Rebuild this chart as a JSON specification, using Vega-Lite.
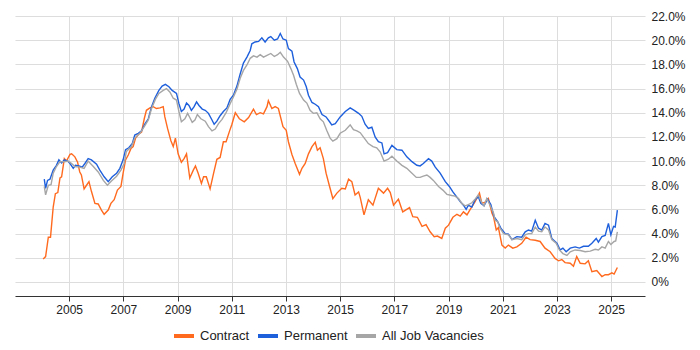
{
  "$schema": "https://vega.github.io/schema/vega-lite/v6.json",
  "width": 630,
  "height": 280,
  "autosize": "none",
  "padding": {"left": 15, "top": 16, "right": 55, "bottom": 54},
  "config": {
    "font": "Liberation Sans",
    "view": {"stroke": null},
    "axis": {"labelFont": "Liberation Sans", "labelFontSize": 12, "labelColor": "#222", "gridColor": "#dddddd", "gridWidth": 1},
    "legend": {"labelFont": "Liberation Sans", "labelFontSize": 13, "labelColor": "#222"}
  },
  "data": {
    "values": [
      {"s":"Contract","t":2004.04,"v":1.9},{"s":"Contract","t":2004.13,"v":2.1},{"s":"Contract","t":2004.23,"v":3.7},{"s":"Contract","t":2004.31,"v":3.7},{"s":"Contract","t":2004.41,"v":6.2},{"s":"Contract","t":2004.49,"v":7.3},{"s":"Contract","t":2004.58,"v":7.4},{"s":"Contract","t":2004.66,"v":8.6},{"s":"Contract","t":2004.72,"v":8.7},{"s":"Contract","t":2004.82,"v":10.2},{"s":"Contract","t":2004.90,"v":10.0},{"s":"Contract","t":2005.03,"v":10.55},{"s":"Contract","t":2005.09,"v":10.6},{"s":"Contract","t":2005.21,"v":10.35},{"s":"Contract","t":2005.31,"v":9.9},{"s":"Contract","t":2005.39,"v":9.1},{"s":"Contract","t":2005.45,"v":8.85},{"s":"Contract","t":2005.55,"v":7.7},{"s":"Contract","t":2005.64,"v":8.0},{"s":"Contract","t":2005.73,"v":8.3},{"s":"Contract","t":2005.82,"v":7.5},{"s":"Contract","t":2005.95,"v":6.5},{"s":"Contract","t":2006.07,"v":6.45},{"s":"Contract","t":2006.19,"v":5.95},{"s":"Contract","t":2006.29,"v":5.6},{"s":"Contract","t":2006.44,"v":5.95},{"s":"Contract","t":2006.54,"v":6.5},{"s":"Contract","t":2006.66,"v":6.8},{"s":"Contract","t":2006.78,"v":7.6},{"s":"Contract","t":2006.91,"v":7.9},{"s":"Contract","t":2006.99,"v":9.0},{"s":"Contract","t":2007.08,"v":10.1},{"s":"Contract","t":2007.18,"v":10.5},{"s":"Contract","t":2007.28,"v":11.05},{"s":"Contract","t":2007.36,"v":11.2},{"s":"Contract","t":2007.45,"v":11.9},{"s":"Contract","t":2007.55,"v":12.2},{"s":"Contract","t":2007.67,"v":12.4},{"s":"Contract","t":2007.77,"v":13.5},{"s":"Contract","t":2007.85,"v":14.2},{"s":"Contract","t":2007.98,"v":14.4},{"s":"Contract","t":2008.10,"v":14.5},{"s":"Contract","t":2008.22,"v":14.35},{"s":"Contract","t":2008.35,"v":14.4},{"s":"Contract","t":2008.47,"v":14.5},{"s":"Contract","t":2008.53,"v":13.65},{"s":"Contract","t":2008.63,"v":12.7},{"s":"Contract","t":2008.75,"v":11.7},{"s":"Contract","t":2008.84,"v":11.2},{"s":"Contract","t":2008.92,"v":11.9},{"s":"Contract","t":2009.02,"v":10.6},{"s":"Contract","t":2009.14,"v":9.9},{"s":"Contract","t":2009.24,"v":10.2},{"s":"Contract","t":2009.33,"v":10.6},{"s":"Contract","t":2009.45,"v":8.6},{"s":"Contract","t":2009.58,"v":9.25},{"s":"Contract","t":2009.66,"v":9.6},{"s":"Contract","t":2009.76,"v":9.0},{"s":"Contract","t":2009.88,"v":8.15},{"s":"Contract","t":2009.96,"v":8.7},{"s":"Contract","t":2010.06,"v":8.7},{"s":"Contract","t":2010.20,"v":7.7},{"s":"Contract","t":2010.33,"v":9.0},{"s":"Contract","t":2010.45,"v":10.15},{"s":"Contract","t":2010.57,"v":10.3},{"s":"Contract","t":2010.69,"v":11.6},{"s":"Contract","t":2010.79,"v":11.6},{"s":"Contract","t":2010.92,"v":12.5},{"s":"Contract","t":2011.00,"v":13.0},{"s":"Contract","t":2011.13,"v":14.0},{"s":"Contract","t":2011.28,"v":13.5},{"s":"Contract","t":2011.46,"v":13.25},{"s":"Contract","t":2011.62,"v":13.6},{"s":"Contract","t":2011.80,"v":14.3},{"s":"Contract","t":2011.91,"v":13.85},{"s":"Contract","t":2012.05,"v":14.0},{"s":"Contract","t":2012.17,"v":13.9},{"s":"Contract","t":2012.30,"v":14.5},{"s":"Contract","t":2012.35,"v":15.0},{"s":"Contract","t":2012.48,"v":14.35},{"s":"Contract","t":2012.60,"v":14.5},{"s":"Contract","t":2012.72,"v":14.35},{"s":"Contract","t":2012.89,"v":12.85},{"s":"Contract","t":2013.01,"v":12.55},{"s":"Contract","t":2013.09,"v":11.6},{"s":"Contract","t":2013.22,"v":10.55},{"s":"Contract","t":2013.34,"v":9.8},{"s":"Contract","t":2013.50,"v":8.9},{"s":"Contract","t":2013.59,"v":9.4},{"s":"Contract","t":2013.71,"v":9.8},{"s":"Contract","t":2013.83,"v":10.6},{"s":"Contract","t":2013.96,"v":11.2},{"s":"Contract","t":2014.08,"v":11.55},{"s":"Contract","t":2014.16,"v":10.9},{"s":"Contract","t":2014.26,"v":11.1},{"s":"Contract","t":2014.38,"v":10.2},{"s":"Contract","t":2014.48,"v":9.0},{"s":"Contract","t":2014.61,"v":7.9},{"s":"Contract","t":2014.73,"v":6.9},{"s":"Contract","t":2014.88,"v":7.35},{"s":"Contract","t":2015.06,"v":7.75},{"s":"Contract","t":2015.19,"v":7.7},{"s":"Contract","t":2015.31,"v":8.5},{"s":"Contract","t":2015.43,"v":8.3},{"s":"Contract","t":2015.55,"v":7.2},{"s":"Contract","t":2015.68,"v":7.45},{"s":"Contract","t":2015.74,"v":7.0},{"s":"Contract","t":2015.88,"v":5.55},{"s":"Contract","t":2016.04,"v":6.8},{"s":"Contract","t":2016.21,"v":6.35},{"s":"Contract","t":2016.41,"v":7.75},{"s":"Contract","t":2016.60,"v":7.35},{"s":"Contract","t":2016.75,"v":7.75},{"s":"Contract","t":2016.85,"v":7.4},{"s":"Contract","t":2016.97,"v":6.35},{"s":"Contract","t":2017.15,"v":6.85},{"s":"Contract","t":2017.31,"v":5.8},{"s":"Contract","t":2017.56,"v":6.15},{"s":"Contract","t":2017.68,"v":5.4},{"s":"Contract","t":2017.85,"v":5.35},{"s":"Contract","t":2018.02,"v":4.6},{"s":"Contract","t":2018.17,"v":4.75},{"s":"Contract","t":2018.32,"v":4.15},{"s":"Contract","t":2018.47,"v":3.75},{"s":"Contract","t":2018.59,"v":3.8},{"s":"Contract","t":2018.75,"v":3.6},{"s":"Contract","t":2018.88,"v":4.45},{"s":"Contract","t":2019.00,"v":4.7},{"s":"Contract","t":2019.16,"v":5.35},{"s":"Contract","t":2019.31,"v":5.6},{"s":"Contract","t":2019.43,"v":5.45},{"s":"Contract","t":2019.55,"v":5.8},{"s":"Contract","t":2019.68,"v":5.55},{"s":"Contract","t":2019.80,"v":6.0},{"s":"Contract","t":2019.98,"v":6.65},{"s":"Contract","t":2020.14,"v":7.35},{"s":"Contract","t":2020.23,"v":6.5},{"s":"Contract","t":2020.35,"v":6.6},{"s":"Contract","t":2020.47,"v":6.9},{"s":"Contract","t":2020.60,"v":5.7},{"s":"Contract","t":2020.66,"v":5.4},{"s":"Contract","t":2020.76,"v":4.3},{"s":"Contract","t":2020.84,"v":4.5},{"s":"Contract","t":2020.97,"v":3.05},{"s":"Contract","t":2021.09,"v":2.8},{"s":"Contract","t":2021.21,"v":3.05},{"s":"Contract","t":2021.37,"v":2.8},{"s":"Contract","t":2021.52,"v":2.9},{"s":"Contract","t":2021.70,"v":3.2},{"s":"Contract","t":2021.86,"v":3.7},{"s":"Contract","t":2022.01,"v":3.5},{"s":"Contract","t":2022.20,"v":3.45},{"s":"Contract","t":2022.38,"v":3.35},{"s":"Contract","t":2022.56,"v":2.8},{"s":"Contract","t":2022.75,"v":2.5},{"s":"Contract","t":2022.93,"v":1.95},{"s":"Contract","t":2023.06,"v":1.75},{"s":"Contract","t":2023.18,"v":1.85},{"s":"Contract","t":2023.30,"v":1.6},{"s":"Contract","t":2023.49,"v":1.55},{"s":"Contract","t":2023.61,"v":1.3},{"s":"Contract","t":2023.73,"v":2.1},{"s":"Contract","t":2023.86,"v":1.55},{"s":"Contract","t":2024.04,"v":1.5},{"s":"Contract","t":2024.16,"v":1.75},{"s":"Contract","t":2024.29,"v":0.85},{"s":"Contract","t":2024.47,"v":0.95},{"s":"Contract","t":2024.66,"v":0.45},{"s":"Contract","t":2024.78,"v":0.6},{"s":"Contract","t":2024.90,"v":0.6},{"s":"Contract","t":2025.03,"v":0.75},{"s":"Contract","t":2025.11,"v":0.65},{"s":"Contract","t":2025.23,"v":1.2},

      {"s":"Permanent","t":2004.08,"v":8.5},{"s":"Permanent","t":2004.13,"v":7.75},{"s":"Permanent","t":2004.20,"v":8.4},{"s":"Permanent","t":2004.29,"v":8.5},{"s":"Permanent","t":2004.41,"v":9.25},{"s":"Permanent","t":2004.53,"v":9.65},{"s":"Permanent","t":2004.62,"v":10.1},{"s":"Permanent","t":2004.72,"v":9.85},{"s":"Permanent","t":2004.82,"v":10.1},{"s":"Permanent","t":2004.94,"v":10.0},{"s":"Permanent","t":2005.03,"v":9.8},{"s":"Permanent","t":2005.15,"v":9.4},{"s":"Permanent","t":2005.23,"v":9.65},{"s":"Permanent","t":2005.36,"v":9.6},{"s":"Permanent","t":2005.48,"v":9.5},{"s":"Permanent","t":2005.58,"v":9.8},{"s":"Permanent","t":2005.70,"v":10.2},{"s":"Permanent","t":2005.82,"v":10.1},{"s":"Permanent","t":2006.01,"v":9.75},{"s":"Permanent","t":2006.13,"v":9.25},{"s":"Permanent","t":2006.29,"v":8.7},{"s":"Permanent","t":2006.44,"v":8.3},{"s":"Permanent","t":2006.59,"v":8.7},{"s":"Permanent","t":2006.75,"v":9.0},{"s":"Permanent","t":2006.87,"v":9.4},{"s":"Permanent","t":2006.99,"v":10.1},{"s":"Permanent","t":2007.08,"v":10.95},{"s":"Permanent","t":2007.20,"v":11.1},{"s":"Permanent","t":2007.33,"v":11.45},{"s":"Permanent","t":2007.42,"v":12.15},{"s":"Permanent","t":2007.55,"v":12.3},{"s":"Permanent","t":2007.67,"v":12.5},{"s":"Permanent","t":2007.79,"v":13.05},{"s":"Permanent","t":2007.92,"v":13.5},{"s":"Permanent","t":2008.04,"v":14.5},{"s":"Permanent","t":2008.16,"v":15.2},{"s":"Permanent","t":2008.31,"v":15.85},{"s":"Permanent","t":2008.43,"v":16.2},{"s":"Permanent","t":2008.55,"v":16.35},{"s":"Permanent","t":2008.68,"v":16.15},{"s":"Permanent","t":2008.80,"v":15.85},{"s":"Permanent","t":2008.96,"v":15.6},{"s":"Permanent","t":2009.05,"v":14.75},{"s":"Permanent","t":2009.14,"v":14.1},{"s":"Permanent","t":2009.24,"v":14.3},{"s":"Permanent","t":2009.33,"v":14.8},{"s":"Permanent","t":2009.42,"v":14.6},{"s":"Permanent","t":2009.51,"v":14.2},{"s":"Permanent","t":2009.61,"v":14.5},{"s":"Permanent","t":2009.70,"v":14.9},{"s":"Permanent","t":2009.79,"v":14.6},{"s":"Permanent","t":2009.91,"v":14.3},{"s":"Permanent","t":2010.02,"v":14.2},{"s":"Permanent","t":2010.14,"v":13.95},{"s":"Permanent","t":2010.27,"v":13.4},{"s":"Permanent","t":2010.35,"v":13.05},{"s":"Permanent","t":2010.45,"v":13.3},{"s":"Permanent","t":2010.57,"v":13.75},{"s":"Permanent","t":2010.69,"v":14.1},{"s":"Permanent","t":2010.82,"v":14.4},{"s":"Permanent","t":2010.94,"v":15.1},{"s":"Permanent","t":2011.06,"v":15.45},{"s":"Permanent","t":2011.19,"v":16.2},{"s":"Permanent","t":2011.31,"v":17.2},{"s":"Permanent","t":2011.43,"v":18.1},{"s":"Permanent","t":2011.56,"v":18.6},{"s":"Permanent","t":2011.68,"v":19.15},{"s":"Permanent","t":2011.74,"v":19.7},{"s":"Permanent","t":2011.86,"v":19.85},{"s":"Permanent","t":2011.99,"v":19.9},{"s":"Permanent","t":2012.11,"v":20.2},{"s":"Permanent","t":2012.23,"v":19.85},{"s":"Permanent","t":2012.35,"v":20.2},{"s":"Permanent","t":2012.44,"v":20.3},{"s":"Permanent","t":2012.57,"v":20.0},{"s":"Permanent","t":2012.69,"v":20.1},{"s":"Permanent","t":2012.79,"v":20.55},{"s":"Permanent","t":2012.89,"v":20.1},{"s":"Permanent","t":2013.01,"v":20.0},{"s":"Permanent","t":2013.09,"v":19.3},{"s":"Permanent","t":2013.22,"v":19.1},{"s":"Permanent","t":2013.30,"v":18.2},{"s":"Permanent","t":2013.42,"v":17.65},{"s":"Permanent","t":2013.52,"v":16.95},{"s":"Permanent","t":2013.65,"v":16.7},{"s":"Permanent","t":2013.75,"v":16.15},{"s":"Permanent","t":2013.83,"v":15.45},{"s":"Permanent","t":2013.96,"v":14.85},{"s":"Permanent","t":2014.08,"v":14.7},{"s":"Permanent","t":2014.20,"v":14.5},{"s":"Permanent","t":2014.33,"v":13.85},{"s":"Permanent","t":2014.48,"v":13.65},{"s":"Permanent","t":2014.61,"v":13.25},{"s":"Permanent","t":2014.69,"v":13.0},{"s":"Permanent","t":2014.82,"v":13.1},{"s":"Permanent","t":2015.00,"v":13.65},{"s":"Permanent","t":2015.19,"v":14.1},{"s":"Permanent","t":2015.37,"v":14.4},{"s":"Permanent","t":2015.52,"v":14.2},{"s":"Permanent","t":2015.68,"v":13.95},{"s":"Permanent","t":2015.80,"v":13.7},{"s":"Permanent","t":2015.92,"v":13.05},{"s":"Permanent","t":2016.04,"v":12.7},{"s":"Permanent","t":2016.17,"v":12.8},{"s":"Permanent","t":2016.29,"v":12.0},{"s":"Permanent","t":2016.41,"v":11.6},{"s":"Permanent","t":2016.54,"v":11.5},{"s":"Permanent","t":2016.62,"v":10.6},{"s":"Permanent","t":2016.75,"v":10.7},{"s":"Permanent","t":2016.91,"v":11.3},{"s":"Permanent","t":2017.09,"v":10.95},{"s":"Permanent","t":2017.28,"v":10.9},{"s":"Permanent","t":2017.46,"v":10.35},{"s":"Permanent","t":2017.65,"v":9.95},{"s":"Permanent","t":2017.83,"v":9.65},{"s":"Permanent","t":2017.95,"v":9.6},{"s":"Permanent","t":2018.07,"v":9.8},{"s":"Permanent","t":2018.26,"v":10.2},{"s":"Permanent","t":2018.38,"v":10.0},{"s":"Permanent","t":2018.51,"v":9.5},{"s":"Permanent","t":2018.69,"v":9.0},{"s":"Permanent","t":2018.88,"v":8.3},{"s":"Permanent","t":2019.03,"v":7.9},{"s":"Permanent","t":2019.16,"v":7.45},{"s":"Permanent","t":2019.28,"v":7.1},{"s":"Permanent","t":2019.43,"v":6.65},{"s":"Permanent","t":2019.55,"v":6.35},{"s":"Permanent","t":2019.65,"v":6.0},{"s":"Permanent","t":2019.73,"v":6.35},{"s":"Permanent","t":2019.86,"v":6.2},{"s":"Permanent","t":2019.98,"v":6.8},{"s":"Permanent","t":2020.10,"v":7.05},{"s":"Permanent","t":2020.19,"v":6.5},{"s":"Permanent","t":2020.31,"v":6.3},{"s":"Permanent","t":2020.44,"v":6.85},{"s":"Permanent","t":2020.56,"v":6.4},{"s":"Permanent","t":2020.68,"v":5.4},{"s":"Permanent","t":2020.81,"v":5.0},{"s":"Permanent","t":2020.93,"v":4.45},{"s":"Permanent","t":2021.09,"v":4.0},{"s":"Permanent","t":2021.21,"v":3.95},{"s":"Permanent","t":2021.34,"v":3.5},{"s":"Permanent","t":2021.52,"v":3.75},{"s":"Permanent","t":2021.70,"v":3.7},{"s":"Permanent","t":2021.83,"v":4.15},{"s":"Permanent","t":2021.95,"v":4.3},{"s":"Permanent","t":2022.07,"v":4.2},{"s":"Permanent","t":2022.20,"v":5.1},{"s":"Permanent","t":2022.32,"v":4.45},{"s":"Permanent","t":2022.44,"v":4.3},{"s":"Permanent","t":2022.56,"v":4.85},{"s":"Permanent","t":2022.69,"v":4.7},{"s":"Permanent","t":2022.81,"v":3.6},{"s":"Permanent","t":2023.00,"v":3.2},{"s":"Permanent","t":2023.12,"v":2.65},{"s":"Permanent","t":2023.22,"v":2.8},{"s":"Permanent","t":2023.34,"v":2.5},{"s":"Permanent","t":2023.49,"v":2.8},{"s":"Permanent","t":2023.67,"v":2.9},{"s":"Permanent","t":2023.83,"v":2.8},{"s":"Permanent","t":2023.98,"v":2.95},{"s":"Permanent","t":2024.16,"v":2.95},{"s":"Permanent","t":2024.29,"v":3.2},{"s":"Permanent","t":2024.45,"v":3.6},{"s":"Permanent","t":2024.53,"v":3.3},{"s":"Permanent","t":2024.66,"v":3.75},{"s":"Permanent","t":2024.78,"v":3.85},{"s":"Permanent","t":2024.90,"v":4.85},{"s":"Permanent","t":2024.99,"v":3.9},{"s":"Permanent","t":2025.09,"v":4.6},{"s":"Permanent","t":2025.15,"v":4.55},{"s":"Permanent","t":2025.23,"v":5.95},

      {"s":"All Job Vacancies","t":2004.08,"v":7.9},{"s":"All Job Vacancies","t":2004.13,"v":7.2},{"s":"All Job Vacancies","t":2004.23,"v":8.0},{"s":"All Job Vacancies","t":2004.33,"v":8.05},{"s":"All Job Vacancies","t":2004.41,"v":9.0},{"s":"All Job Vacancies","t":2004.53,"v":9.55},{"s":"All Job Vacancies","t":2004.66,"v":9.95},{"s":"All Job Vacancies","t":2004.82,"v":9.95},{"s":"All Job Vacancies","t":2004.96,"v":10.0},{"s":"All Job Vacancies","t":2005.09,"v":9.8},{"s":"All Job Vacancies","t":2005.21,"v":9.55},{"s":"All Job Vacancies","t":2005.39,"v":9.5},{"s":"All Job Vacancies","t":2005.55,"v":9.4},{"s":"All Job Vacancies","t":2005.70,"v":10.0},{"s":"All Job Vacancies","t":2005.89,"v":9.55},{"s":"All Job Vacancies","t":2006.07,"v":9.1},{"s":"All Job Vacancies","t":2006.26,"v":8.4},{"s":"All Job Vacancies","t":2006.41,"v":8.0},{"s":"All Job Vacancies","t":2006.56,"v":8.35},{"s":"All Job Vacancies","t":2006.75,"v":8.75},{"s":"All Job Vacancies","t":2006.91,"v":9.25},{"s":"All Job Vacancies","t":2007.03,"v":9.8},{"s":"All Job Vacancies","t":2007.11,"v":10.8},{"s":"All Job Vacancies","t":2007.30,"v":11.2},{"s":"All Job Vacancies","t":2007.42,"v":11.9},{"s":"All Job Vacancies","t":2007.61,"v":12.3},{"s":"All Job Vacancies","t":2007.77,"v":12.85},{"s":"All Job Vacancies","t":2007.92,"v":13.4},{"s":"All Job Vacancies","t":2008.04,"v":14.35},{"s":"All Job Vacancies","t":2008.18,"v":15.1},{"s":"All Job Vacancies","t":2008.31,"v":15.6},{"s":"All Job Vacancies","t":2008.47,"v":15.85},{"s":"All Job Vacancies","t":2008.59,"v":16.0},{"s":"All Job Vacancies","t":2008.72,"v":15.7},{"s":"All Job Vacancies","t":2008.84,"v":15.2},{"s":"All Job Vacancies","t":2008.96,"v":15.05},{"s":"All Job Vacancies","t":2009.05,"v":14.1},{"s":"All Job Vacancies","t":2009.14,"v":13.25},{"s":"All Job Vacancies","t":2009.27,"v":13.5},{"s":"All Job Vacancies","t":2009.37,"v":13.95},{"s":"All Job Vacancies","t":2009.45,"v":13.6},{"s":"All Job Vacancies","t":2009.54,"v":13.2},{"s":"All Job Vacancies","t":2009.64,"v":13.4},{"s":"All Job Vacancies","t":2009.73,"v":13.85},{"s":"All Job Vacancies","t":2009.86,"v":13.5},{"s":"All Job Vacancies","t":2010.02,"v":13.3},{"s":"All Job Vacancies","t":2010.14,"v":12.85},{"s":"All Job Vacancies","t":2010.27,"v":12.5},{"s":"All Job Vacancies","t":2010.39,"v":12.65},{"s":"All Job Vacancies","t":2010.51,"v":13.1},{"s":"All Job Vacancies","t":2010.64,"v":13.45},{"s":"All Job Vacancies","t":2010.79,"v":14.0},{"s":"All Job Vacancies","t":2010.94,"v":14.75},{"s":"All Job Vacancies","t":2011.06,"v":15.3},{"s":"All Job Vacancies","t":2011.19,"v":15.95},{"s":"All Job Vacancies","t":2011.31,"v":16.85},{"s":"All Job Vacancies","t":2011.43,"v":17.5},{"s":"All Job Vacancies","t":2011.56,"v":17.95},{"s":"All Job Vacancies","t":2011.68,"v":18.5},{"s":"All Job Vacancies","t":2011.80,"v":18.7},{"s":"All Job Vacancies","t":2011.93,"v":18.6},{"s":"All Job Vacancies","t":2012.05,"v":18.8},{"s":"All Job Vacancies","t":2012.17,"v":18.6},{"s":"All Job Vacancies","t":2012.30,"v":18.75},{"s":"All Job Vacancies","t":2012.44,"v":18.9},{"s":"All Job Vacancies","t":2012.57,"v":18.65},{"s":"All Job Vacancies","t":2012.69,"v":18.8},{"s":"All Job Vacancies","t":2012.79,"v":19.0},{"s":"All Job Vacancies","t":2012.91,"v":18.6},{"s":"All Job Vacancies","t":2013.06,"v":18.25},{"s":"All Job Vacancies","t":2013.18,"v":17.65},{"s":"All Job Vacancies","t":2013.28,"v":17.1},{"s":"All Job Vacancies","t":2013.38,"v":16.35},{"s":"All Job Vacancies","t":2013.50,"v":15.6},{"s":"All Job Vacancies","t":2013.65,"v":15.05},{"s":"All Job Vacancies","t":2013.77,"v":14.8},{"s":"All Job Vacancies","t":2013.89,"v":14.2},{"s":"All Job Vacancies","t":2014.01,"v":13.95},{"s":"All Job Vacancies","t":2014.14,"v":14.0},{"s":"All Job Vacancies","t":2014.26,"v":13.5},{"s":"All Job Vacancies","t":2014.38,"v":13.25},{"s":"All Job Vacancies","t":2014.51,"v":12.5},{"s":"All Job Vacancies","t":2014.63,"v":11.9},{"s":"All Job Vacancies","t":2014.73,"v":11.65},{"s":"All Job Vacancies","t":2014.88,"v":11.85},{"s":"All Job Vacancies","t":2015.00,"v":12.3},{"s":"All Job Vacancies","t":2015.19,"v":12.55},{"s":"All Job Vacancies","t":2015.37,"v":13.0},{"s":"All Job Vacancies","t":2015.49,"v":12.6},{"s":"All Job Vacancies","t":2015.62,"v":12.5},{"s":"All Job Vacancies","t":2015.74,"v":12.35},{"s":"All Job Vacancies","t":2015.89,"v":11.9},{"s":"All Job Vacancies","t":2016.04,"v":11.45},{"s":"All Job Vacancies","t":2016.21,"v":11.2},{"s":"All Job Vacancies","t":2016.35,"v":11.1},{"s":"All Job Vacancies","t":2016.48,"v":10.75},{"s":"All Job Vacancies","t":2016.62,"v":10.0},{"s":"All Job Vacancies","t":2016.78,"v":10.15},{"s":"All Job Vacancies","t":2016.91,"v":10.4},{"s":"All Job Vacancies","t":2017.09,"v":10.0},{"s":"All Job Vacancies","t":2017.28,"v":9.65},{"s":"All Job Vacancies","t":2017.46,"v":9.4},{"s":"All Job Vacancies","t":2017.65,"v":9.0},{"s":"All Job Vacancies","t":2017.81,"v":8.65},{"s":"All Job Vacancies","t":2017.95,"v":8.65},{"s":"All Job Vacancies","t":2018.07,"v":8.75},{"s":"All Job Vacancies","t":2018.20,"v":8.85},{"s":"All Job Vacancies","t":2018.32,"v":8.65},{"s":"All Job Vacancies","t":2018.44,"v":8.4},{"s":"All Job Vacancies","t":2018.63,"v":7.9},{"s":"All Job Vacancies","t":2018.79,"v":7.6},{"s":"All Job Vacancies","t":2018.94,"v":7.25},{"s":"All Job Vacancies","t":2019.12,"v":7.15},{"s":"All Job Vacancies","t":2019.24,"v":7.1},{"s":"All Job Vacancies","t":2019.37,"v":6.9},{"s":"All Job Vacancies","t":2019.49,"v":6.5},{"s":"All Job Vacancies","t":2019.61,"v":6.3},{"s":"All Job Vacancies","t":2019.73,"v":6.4},{"s":"All Job Vacancies","t":2019.86,"v":6.55},{"s":"All Job Vacancies","t":2019.98,"v":6.85},{"s":"All Job Vacancies","t":2020.10,"v":7.2},{"s":"All Job Vacancies","t":2020.23,"v":6.55},{"s":"All Job Vacancies","t":2020.31,"v":6.3},{"s":"All Job Vacancies","t":2020.41,"v":6.9},{"s":"All Job Vacancies","t":2020.54,"v":6.3},{"s":"All Job Vacancies","t":2020.66,"v":5.7},{"s":"All Job Vacancies","t":2020.72,"v":5.1},{"s":"All Job Vacancies","t":2020.81,"v":5.0},{"s":"All Job Vacancies","t":2020.90,"v":4.45},{"s":"All Job Vacancies","t":2021.03,"v":4.0},{"s":"All Job Vacancies","t":2021.21,"v":3.9},{"s":"All Job Vacancies","t":2021.34,"v":3.5},{"s":"All Job Vacancies","t":2021.52,"v":3.6},{"s":"All Job Vacancies","t":2021.70,"v":3.5},{"s":"All Job Vacancies","t":2021.83,"v":3.9},{"s":"All Job Vacancies","t":2021.95,"v":4.0},{"s":"All Job Vacancies","t":2022.07,"v":4.0},{"s":"All Job Vacancies","t":2022.20,"v":4.55},{"s":"All Job Vacancies","t":2022.32,"v":4.2},{"s":"All Job Vacancies","t":2022.44,"v":4.15},{"s":"All Job Vacancies","t":2022.56,"v":4.55},{"s":"All Job Vacancies","t":2022.69,"v":4.3},{"s":"All Job Vacancies","t":2022.81,"v":3.5},{"s":"All Job Vacancies","t":2022.97,"v":3.2},{"s":"All Job Vacancies","t":2023.09,"v":2.65},{"s":"All Job Vacancies","t":2023.22,"v":2.35},{"s":"All Job Vacancies","t":2023.37,"v":2.2},{"s":"All Job Vacancies","t":2023.49,"v":2.5},{"s":"All Job Vacancies","t":2023.67,"v":2.65},{"s":"All Job Vacancies","t":2023.86,"v":2.6},{"s":"All Job Vacancies","t":2024.04,"v":2.5},{"s":"All Job Vacancies","t":2024.23,"v":2.55},{"s":"All Job Vacancies","t":2024.41,"v":2.7},{"s":"All Job Vacancies","t":2024.53,"v":2.65},{"s":"All Job Vacancies","t":2024.66,"v":2.9},{"s":"All Job Vacancies","t":2024.78,"v":2.8},{"s":"All Job Vacancies","t":2024.90,"v":3.35},{"s":"All Job Vacancies","t":2024.99,"v":3.1},{"s":"All Job Vacancies","t":2025.11,"v":3.35},{"s":"All Job Vacancies","t":2025.17,"v":3.4},{"s":"All Job Vacancies","t":2025.23,"v":4.15}
    ]
  },
  "mark": {"type": "line", "strokeWidth": 1.4, "interpolate": "linear", "clip": true},
  "encoding": {
    "x": {
      "field": "t",
      "type": "quantitative",
      "scale": {"domain": [2003.0, 2026.25], "nice": false, "zero": false},
      "axis": {
        "title": null,
        "values": [2005, 2007, 2009, 2011, 2013, 2015, 2017, 2019, 2021, 2023, 2025],
        "format": "d",
        "grid": true,
        "domain": true,
        "domainColor": "#333333",
        "domainWidth": 1,
        "ticks": true,
        "tickSize": 5,
        "tickColor": "#333333",
        "labelPadding": 3
      }
    },
    "y": {
      "field": "v",
      "type": "quantitative",
      "scale": {"domain": [-1.16, 22], "nice": false, "zero": false},
      "axis": {
        "title": null,
        "orient": "right",
        "values": [0, 2, 4, 6, 8, 10, 12, 14, 16, 18, 20, 22],
        "labelExpr": "datum.value == 0 ? '0%' : format(datum.value, '.1f') + '%'",
        "domain": false,
        "ticks": false,
        "labelPadding": 6,
        "grid": true
      }
    },
    "color": {
      "field": "s",
      "type": "nominal",
      "sort": ["Contract", "Permanent", "All Job Vacancies"],
      "scale": {"domain": ["Contract", "Permanent", "All Job Vacancies"], "range": ["#ff6a1f", "#1e5fdc", "#a6a6a6"]},
      "legend": {
        "title": null,
        "orient": "none",
        "direction": "horizontal",
        "legendX": 157,
        "legendY": 308,
        "symbolType": "stroke",
        "symbolStrokeWidth": 4,
        "symbolSize": 400,
        "columnPadding": 0,
        "labelOffset": 4
      }
    }
  }
}
